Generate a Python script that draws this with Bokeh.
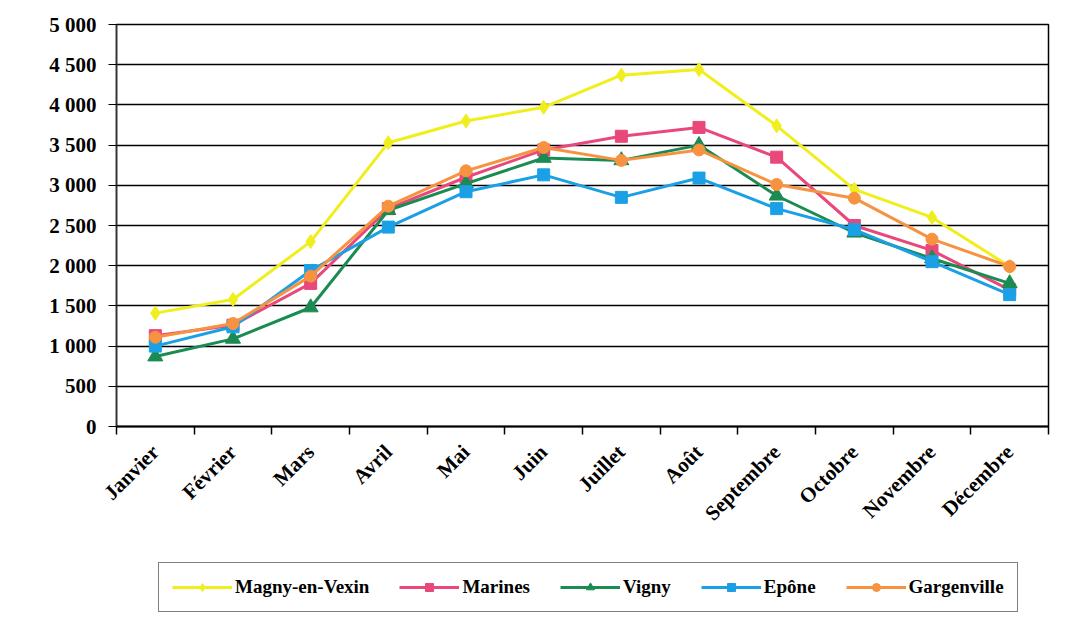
import math
from bokeh.plotting import figure
from bokeh.layouts import column
from bokeh.models import Range1d, LinearAxis, FixedTicker, Legend, LegendItem
from bokeh.embed import file_html
from bokeh.resources import INLINE

months = ["Janvier", "Février", "Mars", "Avril", "Mai", "Juin", "Juillet", "Août",
          "Septembre", "Octobre", "Novembre", "Décembre"]

magny = [1410, 1580, 2300, 3530, 3800, 3970, 4370, 4440, 3740, 2950, 2600, 1990]
marines = [1130, 1260, 1780, 2710, 3100, 3440, 3610, 3720, 3350, 2500, 2190, 1700]
vigny = [870, 1090, 1480, 2690, 3020, 3340, 3310, 3500, 2870, 2410, 2090, 1780]
epone = [1000, 1240, 1940, 2480, 2920, 3130, 2850, 3090, 2710, 2450, 2050, 1640]
gargenville = [1110, 1280, 1870, 2740, 3180, 3470, 3310, 3440, 3010, 2840, 2330, 1990]

y_ticks = [0, 500, 1000, 1500, 2000, 2500, 3000, 3500, 4000, 4500, 5000]

series = [
    ("Magny-en-Vexin", magny, "#F0EE1C", "diamond", 14),
    ("Marines", marines, "#E9487B", "square", 12),
    ("Vigny", vigny, "#1A8B52", "triangle", 15),
    ("Epône", epone, "#1BA0E6", "square", 12),
    ("Gargenville", gargenville, "#F79340", "circle", 12),
]

FONT = "Liberation Serif"

# category slots: each month occupies one unit, centred at i + 0.5
centers = [i + 0.5 for i in range(len(months))]
bounds = list(range(len(months) + 1))

p = figure(x_range=Range1d(0, len(months)), y_range=Range1d(0, 5000),
           width=1080, height=560, output_backend="svg", toolbar_location=None,
           x_axis_location=None, y_axis_location=None,
           min_border_left=116, min_border_right=32, min_border_top=24, min_border_bottom=134)

p.background_fill_color = "white"
p.border_fill_color = "white"
p.outline_line_color = "black"
p.outline_line_width = 1.5

# y axis
yaxis = LinearAxis(ticker=FixedTicker(ticks=y_ticks))
yaxis.major_label_overrides = {v: f"{v:,}".replace(",", " ") for v in y_ticks}
yaxis.major_label_text_font = FONT
yaxis.major_label_text_font_style = "bold"
yaxis.major_label_text_font_size = "21px"
yaxis.major_label_text_color = "black"
yaxis.major_tick_out = 8
yaxis.major_tick_in = 0
yaxis.minor_tick_out = 0
yaxis.minor_tick_in = 0
yaxis.axis_line_color = "#333333"
yaxis.axis_line_width = 1.5
yaxis.major_tick_line_color = "black"
yaxis.major_label_standoff = 12
p.add_layout(yaxis, "left")

# x axis: labels at slot centres, tick marks at slot boundaries
xaxis = LinearAxis(ticker=FixedTicker(ticks=centers, minor_ticks=bounds))
xaxis.major_label_overrides = {c: m for c, m in zip(centers, months)}
xaxis.axis_line_color = "black"
xaxis.axis_line_width = 2
xaxis.major_tick_out = 0
xaxis.major_tick_in = 0
xaxis.minor_tick_out = 8
xaxis.minor_tick_in = 0
xaxis.minor_tick_line_color = "black"
xaxis.minor_tick_line_width = 1.5
xaxis.major_label_orientation = math.pi / 4
xaxis.major_label_text_font = FONT
xaxis.major_label_text_font_style = "bold"
xaxis.major_label_text_font_size = "21px"
xaxis.major_label_text_color = "black"
xaxis.major_label_standoff = 14
p.add_layout(xaxis, "below")

p.xgrid.visible = False
p.ygrid.ticker = FixedTicker(ticks=y_ticks)
p.ygrid.grid_line_color = "black"
p.ygrid.grid_line_width = 1.5

for name, vals, color, marker, size in series:
    p.line(centers, vals, line_color=color, line_width=3)
    p.scatter(centers, vals, marker=marker, size=size, fill_color=color, line_color=color)

# legend strip below the chart (its own glyphs lie outside its empty view)
lg = figure(x_range=Range1d(0, 1), y_range=Range1d(0, 1), width=1080, height=66,
            output_backend="svg", toolbar_location=None,
            x_axis_location=None, y_axis_location=None,
            min_border_left=0, min_border_right=0, min_border_top=0, min_border_bottom=0)
lg.outline_line_color = None
lg.grid.visible = False
lg.background_fill_color = "white"
lg.border_fill_color = "white"

items = []
for name, vals, color, marker, size in series:
    lr = lg.line(centers, vals, line_color=color, line_width=3)
    sr = lg.scatter(centers, vals, marker=marker, size=size, fill_color=color, line_color=color)
    items.append(LegendItem(label=name, renderers=[lr, sr]))

legend = Legend(items=items, orientation="horizontal", location=(42, 14))
legend.label_text_font = FONT
legend.label_text_font_style = "bold"
legend.label_text_font_size = "19px"
legend.label_text_color = "black"
legend.glyph_width = 60
legend.glyph_height = 20
legend.label_standoff = 3
legend.spacing = 30
legend.padding = 13
legend.margin = 0
legend.border_line_color = "black"
legend.border_line_width = 1.5
legend.background_fill_color = "white"
lg.add_layout(legend, "center")

layout = column(p, lg, spacing=0)
open("out.html", "w").write(file_html(layout, INLINE))
